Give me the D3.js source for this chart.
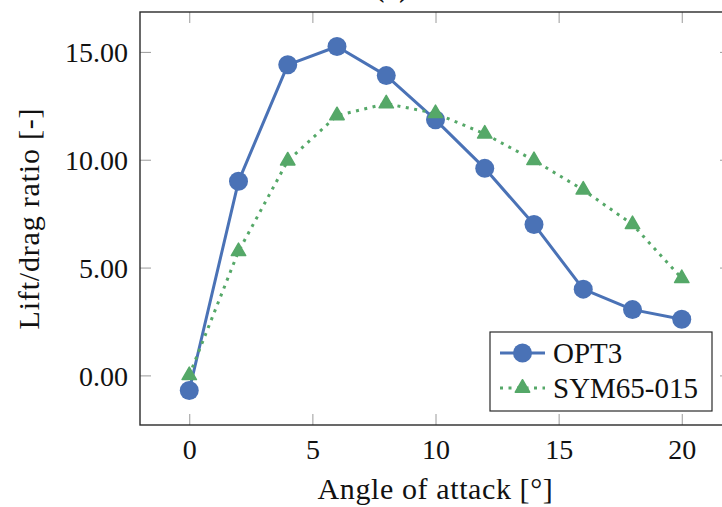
<!DOCTYPE html>
<html>
<head>
<meta charset="utf-8">
<script src="https://cdn.jsdelivr.net/npm/d3@7"></script>
<style>
  html, body { margin: 0; padding: 0; background: #fff; }
  svg text { font-family: "Liberation Serif", "DejaVu Serif", serif; fill: #111; }
</style>
</head>
<body>
<svg id="chart" width="722" height="507"></svg>
<script>
// Angle of attack (degrees)
const angles = [0, 2, 4, 6, 8, 10, 12, 14, 16, 18, 20];
// Lift/drag ratio per airfoil
const opt3 = [-0.7, 9.0, 14.4, 15.25, 13.9, 11.85, 9.6, 7.0, 4.0, 3.05, 2.6];
const sym65 = [0.0, 5.75, 9.95, 12.05, 12.6, 12.15, 11.2, 9.97, 8.6, 7.0, 4.5];
const seriesNames = ["OPT3", "SYM65-015"];
const xTicks = [0, 5, 10, 15, 20];
const yTicks = [0, 5, 10, 15];

const blue = "#4a72b6";
const green = "#55a868";

const svg = d3.select("#chart");
const plot = { left: 140, right: 731, top: 12, bottom: 425 };

const x = d3.scaleLinear().domain([-2, 22]).range([plot.left, plot.right]);
const y = d3.scaleLinear().domain([-2.3, 16.85]).range([plot.bottom, plot.top]);

// Panel title sitting above the frame (runs past the top edge)
svg.append("text")
  .attr("x", 445).attr("y", -3)
  .attr("text-anchor", "middle")
  .attr("font-size", 27)
  .html('<tspan font-weight="bold">(b)</tspan> L/D ratio');

// Tick marks on all four sides, pointing inward
const tickLen = 11;
const tickColor = "#9a9a9a";
const axB = d3.axisBottom(x).tickValues(xTicks).tickSize(-tickLen).tickPadding(14).tickFormat(d3.format("d"));
const axT = d3.axisTop(x).tickValues(xTicks).tickSize(-tickLen).tickFormat("");
const axL = d3.axisLeft(y).tickValues(yTicks).tickSize(-tickLen).tickPadding(12).tickFormat(d3.format(".2f"));
const axR = d3.axisRight(y).tickValues(yTicks).tickSize(-tickLen).tickFormat("");

function styleAxis(g) {
  g.select(".domain").remove();
  g.selectAll(".tick line").attr("stroke", tickColor).attr("stroke-width", 1);
  g.selectAll(".tick text").attr("font-size", 28).attr("fill", "#111")
    .style("font-family", '"Liberation Serif", "DejaVu Serif", serif');
}

svg.append("g").attr("transform", `translate(0,${plot.bottom})`).call(axB).call(styleAxis)
  .selectAll(".tick text").attr("dy", "0.71em");
svg.append("g").attr("transform", `translate(0,${plot.top})`).call(axT).call(styleAxis);
svg.append("g").attr("transform", `translate(${plot.left},0)`).call(axL).call(styleAxis)
  .selectAll(".tick text").attr("dy", "0.36em");
svg.append("g").attr("transform", `translate(${plot.right},0)`).call(axR).call(styleAxis);

// Frame
svg.append("rect")
  .attr("x", plot.left).attr("y", plot.top)
  .attr("width", plot.right - plot.left).attr("height", plot.bottom - plot.top)
  .attr("fill", "none").attr("stroke", "#2a2a2a").attr("stroke-width", 1.4);

// Axis titles
svg.append("text")
  .attr("x", (plot.left + plot.right) / 2).attr("y", 499)
  .attr("text-anchor", "middle").attr("font-size", 30).attr("letter-spacing", 0.6)
  .text("Angle of attack [°]");
svg.append("text")
  .attr("transform", `translate(39,${(plot.top + plot.bottom) / 2}) rotate(-90)`)
  .attr("text-anchor", "middle").attr("font-size", 30).attr("letter-spacing", 0.8)
  .text("Lift/drag ratio [-]");

const line = d3.line().x(d => x(d[0])).y(d => y(d[1]));
const opt3Pts = angles.map((a, i) => [a, opt3[i]]);
const symPts = angles.map((a, i) => [a, sym65[i]]);
const tri = d3.symbol().type(d3.symbolTriangle).size(90);

// OPT3: solid line with filled circles
svg.append("path").datum(opt3Pts)
  .attr("d", line).attr("fill", "none")
  .attr("stroke", blue).attr("stroke-width", 3).attr("stroke-linejoin", "round");
svg.append("g").selectAll("circle").data(opt3Pts).join("circle")
  .attr("cx", d => x(d[0])).attr("cy", d => y(d[1])).attr("r", 9.5)
  .attr("fill", blue);

// SYM65-015: dotted line with triangles
svg.append("path").datum(symPts)
  .attr("d", line).attr("fill", "none")
  .attr("stroke", green).attr("stroke-width", 3).attr("stroke-dasharray", "3,5.5");
svg.append("g").selectAll("path").data(symPts).join("path")
  .attr("transform", d => `translate(${x(d[0])},${y(d[1])})`)
  .attr("d", tri).attr("fill", green).attr("stroke", green).attr("stroke-width", 1.5)
  .attr("stroke-linejoin", "round");

// Legend
const lg = svg.append("g");
lg.append("rect").attr("x", 490).attr("y", 332).attr("width", 222).attr("height", 79)
  .attr("fill", "#fff").attr("stroke", "#2a2a2a").attr("stroke-width", 1.2);
const rows = [353, 388];
// OPT3 entry
lg.append("line").attr("x1", 500).attr("x2", 545).attr("y1", rows[0]).attr("y2", rows[0])
  .attr("stroke", blue).attr("stroke-width", 3);
lg.append("circle").attr("cx", 522.5).attr("cy", rows[0]).attr("r", 9.5).attr("fill", blue);
// SYM65-015 entry
lg.append("line").attr("x1", 500).attr("x2", 545).attr("y1", rows[1]).attr("y2", rows[1])
  .attr("stroke", green).attr("stroke-width", 3).attr("stroke-dasharray", "3,5.5");
lg.append("path").attr("transform", `translate(522.5,${rows[1]})`).attr("d", tri)
  .attr("fill", green).attr("stroke", green).attr("stroke-width", 1.5).attr("stroke-linejoin", "round");
lg.selectAll("text.lab").data(seriesNames).join("text").attr("class", "lab")
  .attr("x", 553).attr("y", (d, i) => rows[i]).attr("dy", "0.35em")
  .attr("font-size", 29).text(d => d);
</script>
</body>
</html>
